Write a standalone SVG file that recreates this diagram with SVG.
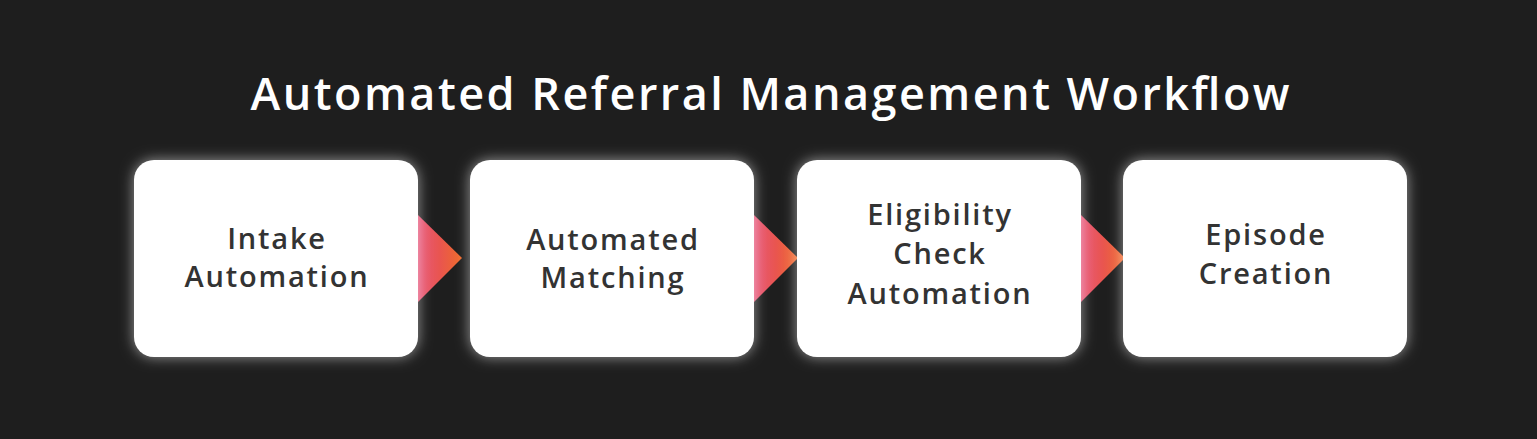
<svg xmlns="http://www.w3.org/2000/svg" width="1537" height="439" viewBox="0 0 1537 439">
<defs>
<style>
.title{font-family:"Open Sans","Liberation Sans",sans-serif;font-weight:600;font-size:45px;fill:#ffffff;text-anchor:middle}
.lbl{font-family:"Open Sans","Liberation Sans",sans-serif;font-weight:600;font-size:29px;fill:#333333;text-anchor:middle;letter-spacing:1.8px}
.arr{fill:url(#grad)}
</style>
<filter id="g2" x="-20%" y="-20%" width="140%" height="140%">
<feGaussianBlur in="SourceAlpha" stdDeviation="7" result="b"/>
<feFlood flood-color="#ffffff" flood-opacity="0.55"/>
<feComposite operator="in" in2="b" result="s"/>
<feMerge><feMergeNode in="s"/><feMergeNode in="SourceGraphic"/></feMerge>
</filter>
<linearGradient id="grad" x1="0" y1="0" x2="1" y2="0">
<stop offset="0" stop-color="#e6567a"/>
<stop offset="0.5" stop-color="#e9554f"/>
<stop offset="1" stop-color="#ee6b2a"/>
</linearGradient>
</defs>
<rect width="1537" height="439" fill="#1e1e1e"/>
<text class="title" x="770" y="110" textLength="1039" lengthAdjust="spacing">Automated Referral Management Workflow</text>
<g id="connectors">
<polygon class="arr" points="418,215 462,258 418,302"/>
<polygon class="arr" points="754,215 798,258 754,302"/>
<polygon class="arr" points="1081,215 1125,258 1081,302"/>
</g>
<g id="node1">
<rect x="134" y="160" width="284" height="197" rx="20" fill="#ffffff" filter="url(#g2)"/>
<text class="lbl" x="277" y="249">Intake</text>
<text class="lbl" x="277" y="287">Automation</text>
</g>
<g id="node2">
<rect x="470" y="160" width="284" height="197" rx="20" fill="#ffffff" filter="url(#g2)"/>
<text class="lbl" x="613" y="250">Automated</text>
<text class="lbl" x="613" y="288">Matching</text>
</g>
<g id="node3">
<rect x="797" y="160" width="284" height="197" rx="20" fill="#ffffff" filter="url(#g2)"/>
<text class="lbl" x="940" y="225">Eligibility</text>
<text class="lbl" x="940" y="264">Check</text>
<text class="lbl" x="940" y="304">Automation</text>
</g>
<g id="node4">
<rect x="1123" y="160" width="284" height="197" rx="20" fill="#ffffff" filter="url(#g2)"/>
<text class="lbl" x="1266" y="245">Episode</text>
<text class="lbl" x="1266" y="284">Creation</text>
</g>
</svg>
